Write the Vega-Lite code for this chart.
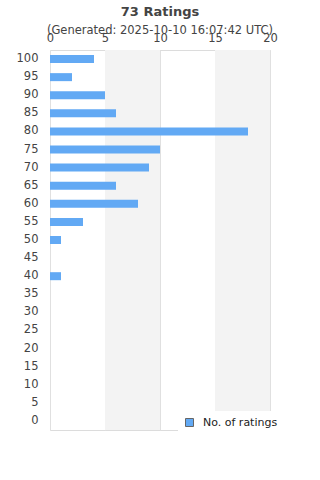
{
  "$schema": "https://vega.github.io/schema/vega-lite/v6.json",
  "width": 220,
  "height": 380,
  "autosize": {"type": "none"},
  "padding": {"left": 50, "top": 50, "right": 50, "bottom": 50},
  "background": "white",
  "config": {
    "font": "DejaVu Sans",
    "view": {"stroke": "#dcdcdc", "strokeWidth": 1},
    "axis": {"labelColor": "#444", "labelFontSize": 11, "ticks": false, "domain": false, "title": null}
  },
  "title": {
    "text": "73 Ratings",
    "subtitle": "(Generated: 2025-10-10 16:07:42 UTC)",
    "fontSize": 13,
    "fontWeight": "bold",
    "color": "#444",
    "subtitleFontSize": 11.5,
    "subtitleColor": "#444",
    "subtitlePadding": 6,
    "anchor": "middle",
    "offset": -4
  },
  "datasets": {
    "bands": [{"start": 5, "end": 10}, {"start": 15, "end": 20}],
    "ratings": [
      {"rating": 100, "count": 4},
      {"rating": 95, "count": 2},
      {"rating": 90, "count": 5},
      {"rating": 85, "count": 6},
      {"rating": 80, "count": 18},
      {"rating": 75, "count": 10},
      {"rating": 70, "count": 9},
      {"rating": 65, "count": 6},
      {"rating": 60, "count": 8},
      {"rating": 55, "count": 3},
      {"rating": 50, "count": 1},
      {"rating": 45, "count": 0},
      {"rating": 40, "count": 1},
      {"rating": 35, "count": 0},
      {"rating": 30, "count": 0},
      {"rating": 25, "count": 0},
      {"rating": 20, "count": 0},
      {"rating": 15, "count": 0},
      {"rating": 10, "count": 0},
      {"rating": 5, "count": 0},
      {"rating": 0, "count": 0}
    ]
  },
  "layer": [
    {
      "data": {"name": "bands"},
      "mark": {"type": "rect", "color": "#f3f3f3"},
      "encoding": {
        "x": {"field": "start", "type": "quantitative", "scale": {"domain": [0, 20]}},
        "x2": {"field": "end"}
      }
    },
    {
      "data": {"name": "ratings"},
      "mark": {"type": "bar", "height": 8},
      "encoding": {
        "y": {"field": "rating", "type": "ordinal", "sort": "descending",
              "axis": {"labelPadding": 12, "labelFontSize": 11.5}},
        "x": {"field": "count", "type": "quantitative",
              "scale": {"domain": [0, 20]},
              "axis": {"orient": "top", "values": [0, 5, 10, 15, 20], "grid": true, "gridColor": "#e0e0e0", "labelPadding": 2, "offset": 5, "labelFlush": false, "labelFontSize": 11.5}},
        "color": {
          "datum": "No. of ratings",
          "scale": {"range": ["#62a9f4"]},
          "legend": {
            "title": null,
            "orient": "none",
            "legendX": 128,
            "legendY": 361,
            "fillColor": "white",
            "padding": 6,
            "symbolType": "square",
            "symbolSize": 64,
            "symbolStrokeColor": "#666",
            "symbolStrokeWidth": 1,
            "labelFontSize": 11,
            "labelColor": "#222",
            "labelOffset": 8
          }
        }
      }
    }
  ]
}
